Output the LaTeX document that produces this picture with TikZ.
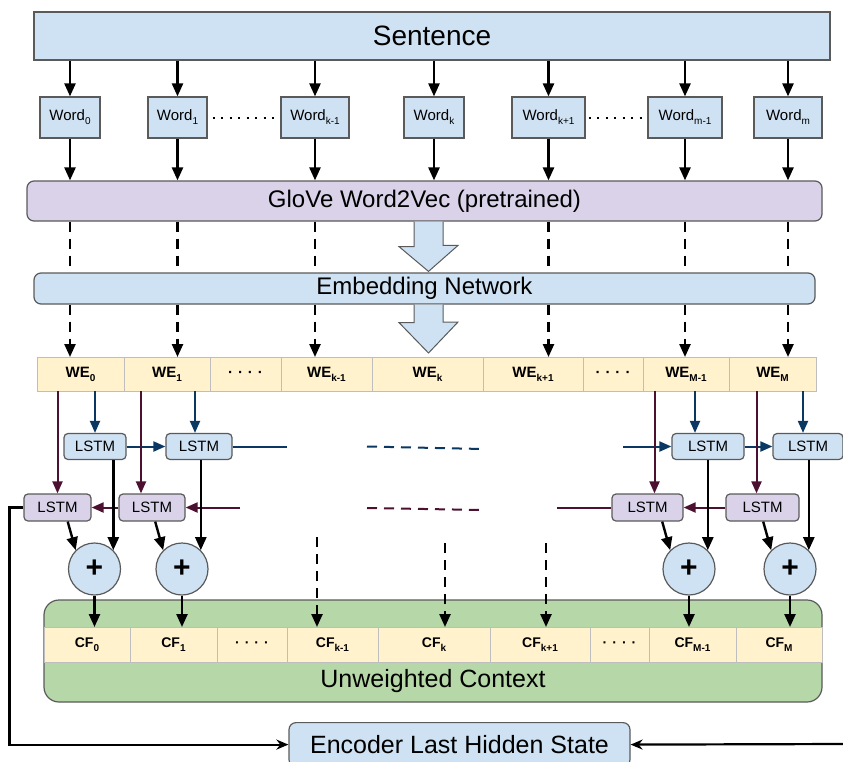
\documentclass[tikz,border=0pt]{standalone}
\usepackage{fontspec}
\setmainfont{Liberation Sans}
\usetikzlibrary{arrows.meta, positioning, calc}
\definecolor{boxblue}{RGB}{207,226,243}
\definecolor{boxpurple}{RGB}{217,210,233}
\definecolor{cellyellow}{RGB}{255,242,204}
\definecolor{ctxgreen}{RGB}{182,215,168}
\definecolor{fwdblue}{RGB}{11,56,99}
\definecolor{bwdpurple}{RGB}{76,17,48}
\definecolor{edgegray}{RGB}{90,90,90}
\definecolor{cellgray}{RGB}{190,190,190}
\newcommand{\lowidx}[1]{\raisebox{-0.5ex}{\fontsize{10}{10}\selectfont #1}}
\newcommand{\celldots}{·\hspace{5pt}·\hspace{5pt}·\hspace{5pt}·}
\tikzset{
  layerbox/.style={
    rectangle, draw=edgegray, line width=1.2pt, fill=boxblue, inner sep=1pt,
    text centered, font=\fontsize{24}{28}\selectfont
  },
  wordbox/.style={
    rectangle, draw=edgegray, line width=1.2pt, fill=boxblue,
    minimum height=41pt, inner sep=0pt, font=\fontsize{15}{18}\selectfont
  },
  cell/.style={
    rectangle, draw=cellgray, line width=1pt, fill=cellyellow, outer sep=0pt,
    inner sep=0pt, minimum height=34pt, font=\fontsize{15}{18}\selectfont\bfseries
  },
  lstmf/.style={
    rectangle, rounded corners=4pt, draw=edgegray, line width=1.2pt, fill=boxblue,
    minimum height=26pt, inner sep=0pt, font=\fontsize{15}{18}\selectfont
  },
  lstmb/.style={lstmf, fill=boxpurple, minimum height=27pt},
  sumnode/.style={
    circle, draw=edgegray, line width=1.2pt, fill=boxblue, minimum size=52pt,
    inner sep=0pt, font=\fontsize{30}{30}\selectfont\bfseries
  },
  arrow/.style={-{Triangle[length=13pt,width=11pt]}, line width=2.4pt},
  dasharrow/.style={arrow, dash pattern=on 10pt off 7pt},
  dashline/.style={line width=2.4pt, dash pattern=on 10pt off 7pt},
  dotline/.style={line width=2pt, dash pattern=on 2pt off 6.5pt},
  linefwd/.style={line width=2pt, color=fwdblue},
  linebwd/.style={line width=2pt, color=bwdpurple},
  arrowfwd/.style={-{Triangle[length=12pt,width=10pt]}, linefwd},
  arrowbwd/.style={-{Triangle[length=12pt,width=10pt]}, linebwd},
  thinarrow/.style={-{Stealth[length=12pt,width=10pt]}, line width=2.2pt},
  fatarrow/.style={fill=boxblue, draw=edgegray, line width=1pt, line join=miter}
}

\begin{document}
\begin{tikzpicture}[x=1pt, y=-1pt]
  \useasboundingbox (0,0) rectangle (843,761);

  % Sentence and words
  \node[layerbox, minimum width=796pt, minimum height=48pt,
        font=\fontsize{28}{32}\selectfont] (sent) at (432,36) {Sentence};
  \node[wordbox, minimum width=60pt] (w0)  at (70,117.5)  {Word\lowidx{0}};
  \node[wordbox, minimum width=59pt] (w1)  at (177.5,117.5) {Word\lowidx{1}};
  \node[wordbox, minimum width=68pt] (wk1) at (315,117.5) {Word\lowidx{k-1}};
  \node[wordbox, minimum width=60pt] (wk)  at (434,117.5) {Word\lowidx{k}};
  \node[wordbox, minimum width=73pt] (wkp) at (548.5,117.5) {Word\lowidx{k+1}};
  \node[wordbox, minimum width=74pt] (wm1) at (685,117.5) {Word\lowidx{m-1}};
  \node[wordbox, minimum width=68pt] (wm)  at (788,117.5) {Word\lowidx{m}};

  % Embedding layers
  \node[layerbox, fill=boxpurple, rounded corners=7pt, minimum width=795pt,
        minimum height=40pt] (glove) at (424.5,201) {GloVe Word2Vec (pretrained)};
  \node[layerbox, rounded corners=7pt, minimum width=781pt,
        minimum height=31pt] (embed) at (424.5,288.5) {Embedding Network};

  % Word embeddings
  \node[cell, minimum width=87pt, anchor=west] (we0) at (37,374) {WE\lowidx{0}};
  \node[cell, minimum width=86pt, right=0pt of we0] (we1) {WE\lowidx{1}};
  \node[cell, minimum width=71pt, right=0pt of we1] (wed1) {\celldots};
  \node[cell, minimum width=91pt, right=0pt of wed1] (wek1) {WE\lowidx{k-1}};
  \node[cell, minimum width=111pt, right=0pt of wek1] (wek) {WE\lowidx{k}};
  \node[cell, minimum width=100pt, right=0pt of wek] (wekp) {WE\lowidx{k+1}};
  \node[cell, minimum width=60pt, right=0pt of wekp] (wed2) {\celldots};
  \node[cell, minimum width=86pt, right=0pt of wed2] (weM1) {WE\lowidx{M-1}};
  \node[cell, minimum width=87pt, right=0pt of weM1] (weM) {WE\lowidx{M}};

  % BiLSTM
  \node[lstmf, minimum width=62pt] (lf0)  at (95,446.5)  {LSTM};
  \node[lstmf, minimum width=66pt] (lf1)  at (199,446.5) {LSTM};
  \node[lstmf, minimum width=72pt] (lfM1) at (708,446.5) {LSTM};
  \node[lstmf, minimum width=70pt] (lfM)  at (808,446.5) {LSTM};
  \node[lstmb, minimum width=67pt] (lb0)  at (57.5,507.5)  {LSTM};
  \node[lstmb, minimum width=66pt] (lb1)  at (152,507.5)   {LSTM};
  \node[lstmb, minimum width=71pt] (lbM1) at (647.5,507.5) {LSTM};
  \node[lstmb, minimum width=73pt] (lbM)  at (762.5,507.5) {LSTM};

  \node[sumnode] (s0) at (94.5,569) {+};
  \node[sumnode] (s1) at (182,569)  {+};
  \node[sumnode] (s2) at (689,569)  {+};
  \node[sumnode] (s3) at (790,569)  {+};

  % Unweighted context
  \node[draw=edgegray, fill=ctxgreen, rounded corners=15pt, line width=1.2pt,
        minimum width=778pt, minimum height=102pt, inner sep=0pt] (ctx) at (433,651) {};
  \node[font=\fontsize{25}{28}\selectfont] (ctxlabel) at (433,681) {Unweighted Context};
  \node[cell, minimum width=86pt, minimum height=35pt, anchor=west,
        font=\fontsize{14}{16}\selectfont\bfseries] (cf0) at (44,644.5) {CF\lowidx{0}};
  \node[cell, minimum width=87pt, minimum height=35pt, right=0pt of cf0,
        font=\fontsize{14}{16}\selectfont\bfseries] (cf1) {CF\lowidx{1}};
  \node[cell, minimum width=70pt, minimum height=35pt, right=0pt of cf1,
        font=\fontsize{14}{16}\selectfont\bfseries] (cfd1) {\celldots};
  \node[cell, minimum width=91pt, minimum height=35pt, right=0pt of cfd1,
        font=\fontsize{14}{16}\selectfont\bfseries] (cfk1) {CF\lowidx{k-1}};
  \node[cell, minimum width=112pt, minimum height=35pt, right=0pt of cfk1,
        font=\fontsize{14}{16}\selectfont\bfseries] (cfk) {CF\lowidx{k}};
  \node[cell, minimum width=100pt, minimum height=35pt, right=0pt of cfk,
        font=\fontsize{14}{16}\selectfont\bfseries] (cfkp) {CF\lowidx{k+1}};
  \node[cell, minimum width=59pt, minimum height=35pt, right=0pt of cfkp,
        font=\fontsize{14}{16}\selectfont\bfseries] (cfd2) {\celldots};
  \node[cell, minimum width=87pt, minimum height=35pt, right=0pt of cfd2,
        font=\fontsize{14}{16}\selectfont\bfseries] (cfM1) {CF\lowidx{M-1}};
  \node[cell, minimum width=86pt, minimum height=35pt, right=0pt of cfM1,
        font=\fontsize{14}{16}\selectfont\bfseries] (cfM) {CF\lowidx{M}};

  \node[layerbox, rounded corners=7pt, minimum width=341pt, minimum height=44pt,
        anchor=north, font=\fontsize{25}{28}\selectfont] (enc) at (459.5,722)
    {Encoder Last Hidden State};

  % Arrows: sentence -> words -> GloVe -> embedding -> WE
  \foreach \n in {w0,w1,wk1,wk,wkp,wm1,wm} {
    \draw[arrow] (\n.north |- sent.south) -- (\n.north);
    \draw[arrow] (\n.south) -- (\n.south |- glove.north);
  }
  \draw[dotline, shorten <=5pt, shorten >=4pt] (w1.east) -- (wk1.west);
  \draw[dotline, shorten <=3pt, shorten >=1pt] (wkp.east) -- (wm1.west);
  \foreach \n/\c in {w0/we0, w1/we1, wk1/wek1, wkp/wekp, wm1/weM1, wm/weM} {
    \draw[dashline] (\n.south |- glove.south) -- (\n.south |- embed.north);
    \draw[dasharrow] (\n.south |- embed.south) -- (\n.south |- \c.north);
  }
  \path[fatarrow] ([xshift=-10.5pt]glove.south) -- ++(0,25) -- ++(-15,0)
    -- ([xshift=4pt,yshift=1pt]embed.north) -- ++(29.5,-26) -- ++(-15,0)
    -- ([xshift=18.5pt]glove.south);
  \path[fatarrow] ([xshift=-10.5pt]embed.south) -- ++(0,18) -- ++(-15,0)
    -- ([xshift=1pt,yshift=4pt]wek.north) -- ++(29.5,-31) -- ++(-15,0)
    -- ([xshift=18.5pt]embed.south);

  % Forward LSTM chain
  \foreach \b/\w/\dx in {lf0/we0/0, lf1/we1/-4, lfM1/weM1/-13, lfM/weM/-5}
    \draw[arrowfwd] ([xshift=\dx pt]\b.north |- \w.south) -- ([xshift=\dx pt]\b.north);
  \coordinate (fwdout) at (287,446.5);
  \coordinate (fdash0) at (367,446.5);
  \coordinate (fdash1) at (483,449);
  \coordinate (fwdin) at (623,446.5);
  \draw[arrowfwd] (lf0) -- (lf1);
  \draw[linefwd] (lf1.east) -- (fwdout);
  \draw[linefwd, dash pattern=on 10pt off 7pt] (fdash0) -- (fdash1);
  \draw[arrowfwd] (fwdin) -- (lfM1.west);
  \draw[arrowfwd] (lfM1) -- (lfM);

  % Backward LSTM chain
  \foreach \b/\w/\dx in {lb0/we0/0, lb1/we1/-11, lbM1/weM1/7, lbM/weM/-6}
    \draw[arrowbwd] ([xshift=\dx pt]\b.north |- \w.south) -- ([xshift=\dx pt]\b.north);
  \coordinate (bwdin) at (240,507.5);
  \coordinate (bdash0) at (367,508);
  \coordinate (bdash1) at (483,510);
  \coordinate (bwdout) at (557,507.5);
  \draw[arrowbwd] (bwdin) -- (lb1.east);
  \draw[arrowbwd] (lb1) -- (lb0);
  \draw[linebwd, dash pattern=on 10pt off 7pt] (bdash0) -- (bdash1);
  \draw[linebwd] (lbM1.west) -- (bwdout);
  \draw[arrowbwd] (lbM) -- (lbM1);

  % Sums into context
  \foreach \f/\b/\s/\c in {lf0/lb0/s0/cf0, lf1/lb1/s1/cf1, lfM1/lbM1/s2/cfM1, lfM/lbM/s3/cfM} {
    \draw[arrow] (\f.south -| \s.45) -- (\s.45);
    \draw[arrow] ([xshift=-8pt]\b.south -| \s.135) -- (\s.135);
    \draw[arrow] (\s.south) -- (\s.south |- \c.north);
  }
  \coordinate (dk1) at (317,537);
  \coordinate (dk) at (445,543);
  \coordinate (dkp) at (546,543);
  \draw[dasharrow] (dk1) -- (dk1 |- cfk1.north);
  \draw[dasharrow] (dk) -- (dk |- cfk.north);
  \draw[dasharrow] (dkp) -- (dkp |- cfkp.north);

  % Last hidden state
  \coordinate (encin) at (843,744);
  \draw[thinarrow] (lb0.west) -- ++(-14,0) |- (enc.west);
  \draw[thinarrow] (encin) -- (enc.east);
\end{tikzpicture}
\end{document}
